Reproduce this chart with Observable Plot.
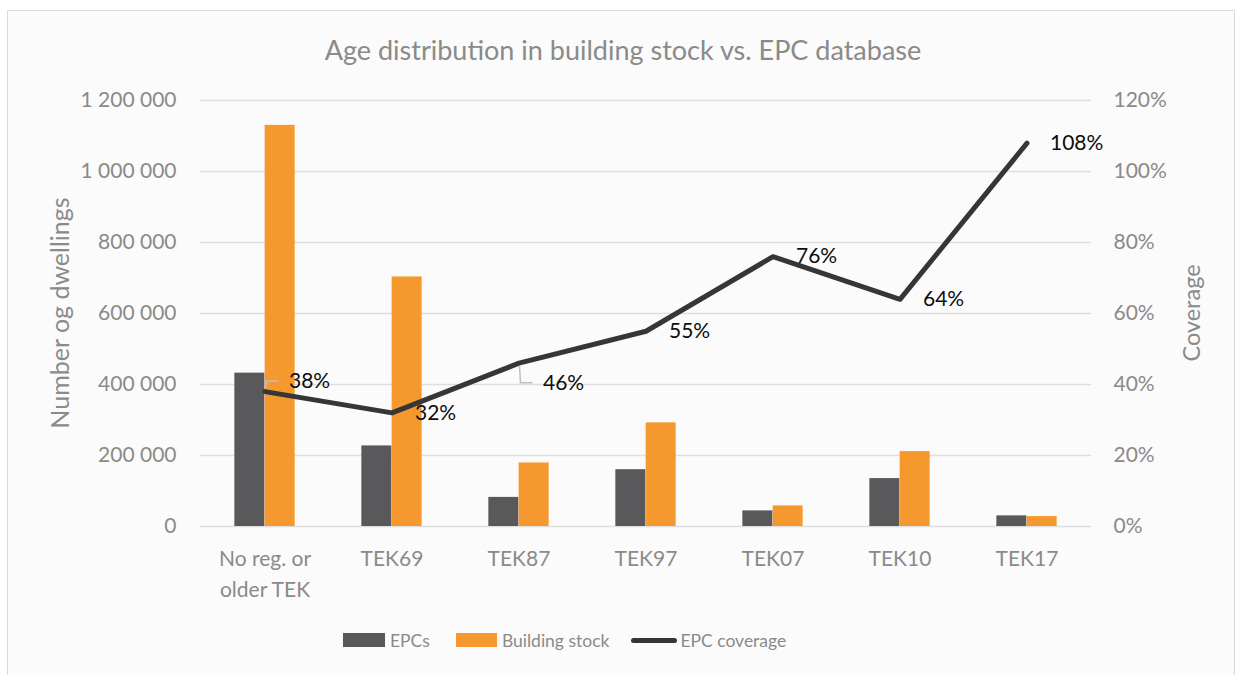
<!DOCTYPE html>
<html>
<head>
<meta charset="utf-8">
<script src="https://cdn.jsdelivr.net/npm/d3@7"></script>
<script src="https://cdn.jsdelivr.net/npm/@observablehq/plot@0.6"></script>
<style>
  html, body { margin: 0; padding: 0; background: #ffffff; }
  #page { position: relative; width: 1242px; height: 675px; overflow: hidden; font-family: Lato, "Open Sans", sans-serif; }
  #frame { position: absolute; left: 7px; top: 10px; width: 1228px; height: 700px; border: 1.5px solid #d9d9d9; background: #fbfbfb; box-sizing: border-box; }
  #title { position: absolute; left: 0; width: 1246px; top: 34px; text-align: center; font-size: 27px; color: #8a8a8a; line-height: 32px; }
  #chart { position: absolute; left: 0; top: 80px; }
  #legend { position: absolute; top: 626px; left: 343px; height: 28px; display: flex; align-items: center; font-size: 17.5px; color: #8a8a8a; }
  .sw { display: inline-block; width: 42px; height: 14px; margin-right: 5px; }
  .ln { display: inline-block; width: 46px; height: 5px; border-radius: 3px; margin-right: 3px; }
  .item { display: flex; align-items: center; }
</style>
</head>
<body>
<div id="page">
  <div id="frame"></div>
  <div id="title">Age distribution in building stock vs. EPC database</div>
  <div id="chart"></div>
  <div id="legend"></div>
</div>
<script>
// ---- data ----
const categories = ["No reg. or\nolder TEK", "TEK69", "TEK87", "TEK97", "TEK07", "TEK10", "TEK17"];
const epcs = [432000, 227000, 82000, 160000, 44000, 135000, 30000];
const buildingStock = [1130000, 703000, 179000, 292000, 58000, 211000, 28000];
const coverage = [38, 32, 46, 55, 76, 64, 108]; // percent
const countTicks = [0, 200000, 400000, 600000, 800000, 1000000, 1200000];
const coverageTickLabels = ["0%", "20%", "40%", "60%", "80%", "100%", "120%"];
const seriesNames = ["EPCs", "Building stock", "EPC coverage"];
const axisTitles = ["Number og dwellings", "Coverage"];

// ---- styles / layout ----
const colEPC = "#59595b";
const colStock = "#f5992f";
const colLine = "#363636";
const gray = "#8a8a8a";
const W = 1242, H = 530;
const mL = 200, mR = 151, mT = 20, mB = 84;
const band = (W - mL - mR) / categories.length;
const barW = 30.3;
const outer = band / 2 - barW;
const pctToCount = 1200000 / 120;

const rows = categories.map((c, i) => ({
  cat: c, epc: epcs[i], stock: buildingStock[i], cov: coverage[i], covY: coverage[i] * pctToCount, i
}));

const fmtCount = d => d3.format(",")(d).replace(/,/g, " ");
const fmtPct = d => coverageTickLabels[countTicks.indexOf(d)] ?? "";

const labelStyle = { x: "cat", y: "covY", text: d => d.cov + "%", textAnchor: "start", dx: 23, fontSize: 21, fill: "#0d0d0d" };

const chart = Plot.plot({
  width: W, height: H,
  marginLeft: mL, marginRight: mR, marginTop: mT, marginBottom: mB,
  style: { fontFamily: "Lato, 'Open Sans', sans-serif", background: "transparent", overflow: "visible" },
  x: { type: "band", domain: categories, padding: 0 },
  y: { domain: [0, 1200000] },
  marks: [
    Plot.gridY(countTicks, { stroke: "#dedede", strokeOpacity: 1, strokeWidth: 1.5 }),
    Plot.axisY(countTicks, { anchor: "left", tickSize: 0, tickPadding: 24, tickFormat: fmtCount, fontSize: 21, fill: gray, label: null }),
    Plot.axisY(countTicks, { anchor: "right", tickSize: 0, tickPadding: 22, tickFormat: fmtPct, fontSize: 21, fill: gray, textAnchor: "start", label: null }),
    Plot.axisX({ tickSize: 0, tickPadding: 18, fontSize: 21, fill: gray, lineHeight: 1.45, label: null }),
    Plot.barY(rows, { x: "cat", y: "epc", fill: colEPC, insetLeft: outer, insetRight: band / 2 }),
    Plot.barY(rows, { x: "cat", y: "stock", fill: colStock, insetLeft: band / 2, insetRight: outer }),
    Plot.line(rows, { x: "cat", y: "covY", stroke: colLine, strokeWidth: 5, strokeLinecap: "round", strokeLinejoin: "round" }),
    Plot.text(rows, { ...labelStyle, filter: d => d.i !== 0 && d.i !== 2 }),
    Plot.text(rows, { ...labelStyle, filter: d => d.i === 0, dx: 24, dy: -10 }),
    Plot.text(rows, { ...labelStyle, filter: d => d.i === 2, dx: 24, dy: 20 })
  ]
});
document.getElementById("chart").appendChild(chart);

const xs = chart.scale("x"), ys = chart.scale("y");
const svg = d3.select(chart);

// leader lines for the two offset labels (derived from scales)
[[0, -10], [2, 20]].forEach(([i, off]) => {
  const px = xs.apply(categories[i]) + xs.bandwidth / 2;
  const py = ys.apply(coverage[i] * pctToCount);
  const dir = off < 0 ? -1 : 1;
  svg.append("path")
    .attr("d", `M${px + 1},${py + dir * 3} L${px + 2},${py + off} L${px + 14},${py + off}`)
    .attr("fill", "none").attr("stroke", "#bfbfbf").attr("stroke-width", 1.5);
});

// axis titles (rotated), centred on plot area
const midY = (ys.range[0] + ys.range[1]) / 2;
[[axisTitles[0], 60, 25], [axisTitles[1], 1192, 23.5]].forEach(([t, x, fs]) => {
  svg.append("text")
    .attr("transform", `translate(${x},${midY}) rotate(-90)`)
    .attr("text-anchor", "middle").attr("dy", "0.35em")
    .attr("font-size", fs).attr("fill", gray)
    .text(t);
});

// legend
const legend = document.getElementById("legend");
const items = [
  { name: seriesNames[0], html: `<span class="sw" style="background:${colEPC}"></span>`, gap: 26 },
  { name: seriesNames[1], html: `<span class="sw" style="background:${colStock};width:41px"></span>`, gap: 22 },
  { name: seriesNames[2], html: `<span class="ln" style="background:${colLine}"></span>`, gap: 0 }
];
items.forEach(it => {
  const d = document.createElement("div");
  d.className = "item";
  d.style.marginRight = it.gap + "px";
  d.innerHTML = it.html + `<span>${it.name}</span>`;
  legend.appendChild(d);
});
</script>
</body>
</html>
